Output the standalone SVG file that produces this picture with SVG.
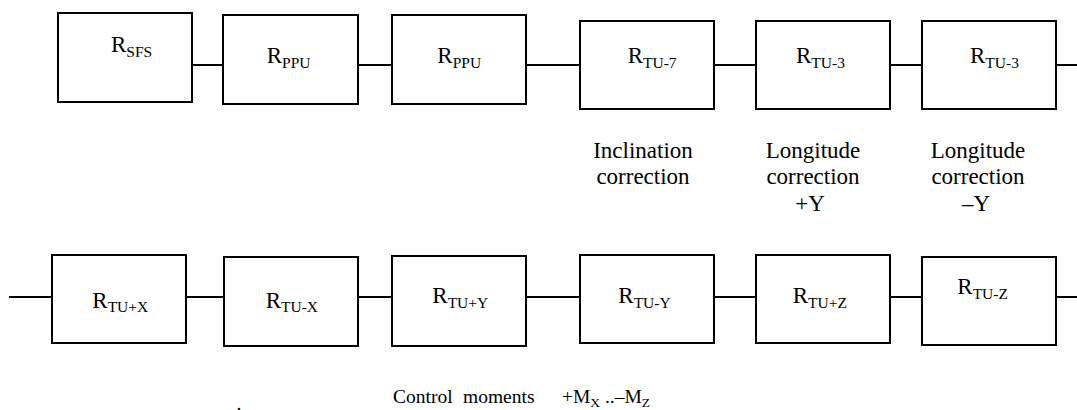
<svg xmlns="http://www.w3.org/2000/svg" width="1077" height="410" viewBox="0 0 1077 410">
<style>
.box{fill:#fff;stroke:#000;stroke-width:2}
.ln{stroke:#000;stroke-width:2;fill:none}
.t{font-family:"Liberation Serif","Times New Roman",serif;font-size:23px;fill:#000}
.s{font-size:15.5px}
.lbl{font-family:"Liberation Serif","Times New Roman",serif;font-size:23px;fill:#000;text-anchor:middle}
.cap{font-family:"Liberation Serif","Times New Roman",serif;font-size:19.5px;fill:#000}
.cs{font-size:13.5px}
</style>
<rect width="1077" height="410" fill="#fff"/>
<g id="connectors">
<line class="ln" x1="192" y1="65" x2="223" y2="65"/>
<line class="ln" x1="358" y1="65" x2="392" y2="65"/>
<line class="ln" x1="526" y1="65" x2="580" y2="65"/>
<line class="ln" x1="714" y1="65" x2="756" y2="65"/>
<line class="ln" x1="890" y1="65" x2="922" y2="65"/>
<line class="ln" x1="1056" y1="65" x2="1077" y2="65"/>
<line class="ln" x1="9" y1="297" x2="52" y2="297"/>
<line class="ln" x1="186" y1="297" x2="224" y2="297"/>
<line class="ln" x1="358" y1="297" x2="392" y2="297"/>
<line class="ln" x1="526" y1="297" x2="580" y2="297"/>
<line class="ln" x1="714" y1="297" x2="756" y2="297"/>
<line class="ln" x1="890" y1="297" x2="922" y2="297"/>
<line class="ln" x1="1056" y1="297" x2="1077" y2="297"/>
</g>
<g id="n-sfs"><rect class="box" x="58" y="13" width="134" height="89"/><text class="t" x="111" y="52">R<tspan class="s" dy="4.5">SFS</tspan></text></g>
<g id="n-ppu1"><rect class="box" x="223" y="15" width="135" height="89"/><text class="t" x="266.7" y="63.3">R<tspan class="s" dy="4.5">PPU</tspan></text></g>
<g id="n-ppu2"><rect class="box" x="392" y="15" width="134" height="89"/><text class="t" x="437.3" y="63.3">R<tspan class="s" dy="4.5">PPU</tspan></text></g>
<g id="n-tu7"><rect class="box" x="580" y="21" width="134" height="88"/><text class="t" x="627.7" y="63.3">R<tspan class="s" dy="4.5">TU-7</tspan></text></g>
<g id="n-tu3a"><rect class="box" x="756" y="21" width="134" height="88"/><text class="t" x="796" y="63.3">R<tspan class="s" dy="4.5">TU-3</tspan></text></g>
<g id="n-tu3b"><rect class="box" x="922" y="21" width="134" height="88"/><text class="t" x="970" y="63.3">R<tspan class="s" dy="4.5">TU-3</tspan></text></g>
<g id="n-tupx"><rect class="box" x="52" y="255" width="134" height="88"/><text class="t" x="92.3" y="307.7">R<tspan class="s" dy="4.5">TU+X</tspan></text></g>
<g id="n-tumx"><rect class="box" x="224" y="257" width="134" height="89"/><text class="t" x="265.7" y="307.7">R<tspan class="s" dy="4.5">TU-X</tspan></text></g>
<g id="n-tupy"><rect class="box" x="392" y="256" width="134" height="90"/><text class="t" x="432.3" y="303.3">R<tspan class="s" dy="4.5">TU+Y</tspan></text></g>
<g id="n-tumy"><rect class="box" x="580" y="255" width="134" height="88"/><text class="t" x="618.3" y="303.3">R<tspan class="s" dy="4.5">TU-Y</tspan></text></g>
<g id="n-tupz"><rect class="box" x="756" y="255" width="134" height="88"/><text class="t" x="792.7" y="303.3">R<tspan class="s" dy="4.5">TU+Z</tspan></text></g>
<g id="n-tumz"><rect class="box" x="922" y="257" width="134" height="88"/><text class="t" x="957.3" y="294">R<tspan class="s" dy="4.5">TU-Z</tspan></text></g>
<g id="labels">
<text class="lbl" x="643" y="157.7">Inclination</text>
<text class="lbl" x="643" y="184.3">correction</text>
<text class="lbl" x="813" y="157.7">Longitude</text>
<text class="lbl" x="813" y="184.3">correction</text>
<text class="lbl" x="810" y="211">+Y</text>
<text class="lbl" x="978" y="157.7">Longitude</text>
<text class="lbl" x="978" y="184.3">correction</text>
<text class="lbl" x="976" y="211">–Y</text>
<text class="cap" y="403"><tspan x="393">Control</tspan><tspan x="463">moments</tspan><tspan x="562">+M</tspan><tspan class="cs" dy="4">X</tspan><tspan dy="-4"> ..–M</tspan><tspan class="cs" dy="4">Z</tspan></text>
<text class="cap" x="236.5" y="409.5">.</text>
</g>
</svg>
